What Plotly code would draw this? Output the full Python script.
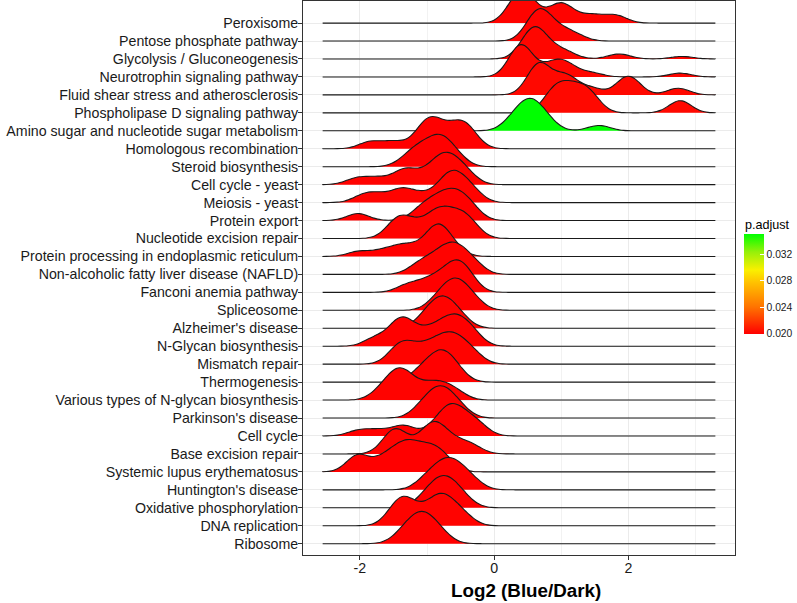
import plotly.graph_objects as go
from plotly.colors import sample_colorscale

# ---------------- data ----------------
pathways = [
    "Peroxisome", "Pentose phosphate pathway", "Glycolysis / Gluconeogenesis",
    "Neurotrophin signaling pathway", "Fluid shear stress and atherosclerosis",
    "Phospholipase D signaling pathway", "Amino sugar and nucleotide sugar metabolism",
    "Homologous recombination", "Steroid biosynthesis", "Cell cycle - yeast",
    "Meiosis - yeast", "Protein export", "Nucleotide excision repair",
    "Protein processing in endoplasmic reticulum",
    "Non-alcoholic fatty liver disease (NAFLD)", "Fanconi anemia pathway",
    "Spliceosome", "Alzheimer's disease", "N-Glycan biosynthesis", "Mismatch repair",
    "Thermogenesis", "Various types of N-glycan biosynthesis", "Parkinson's disease",
    "Cell cycle", "Base excision repair", "Systemic lupus erythematosus",
    "Huntington's disease", "Oxidative phosphorylation", "DNA replication", "Ribosome",
]

p_adjust = [
    0.0200, 0.0200, 0.0201, 0.0201, 0.0202, 0.0202, 0.0351,
    0.0199, 0.0199, 0.0200, 0.0200, 0.0199, 0.0200, 0.0199, 0.0200,
    0.0199, 0.0199, 0.0200, 0.0199, 0.0200, 0.0199, 0.0200, 0.0199,
    0.0199, 0.0200, 0.0199, 0.0199, 0.0199, 0.0200, 0.0199,
]

# log2 (Blue/Dark) values of the genes in each pathway (same order as pathways)
log2_fc = [
    [0.275, 0.36, 0.42, 0.48, 0.565, 0.89, 1.00, 1.11, 1.46, 1.81],
    [0.54, 0.595, 0.635, 0.665, 0.70, 0.74, 0.79, 0.92, 1.04, 1.22],
    [0.43, 0.48, 0.51, 0.54, 0.56, 0.58, 0.59, 0.61, 0.62, 0.64, 0.66, 0.69, 0.72,
     0.77, 0.87, 0.965, 1.035, 1.13, 1.82, 1.90, 2.80],
    [0.285, 0.33, 0.36, 0.38, 0.40, 0.42, 0.44, 0.47, 0.515, 0.77, 0.87, 0.94, 1.00,
     1.07, 1.17, 1.46, 2.77],
    [0.58, 0.635, 0.67, 0.705, 0.76, 1.00, 1.07, 1.14, 1.45, 1.93, 2.00, 2.07, 2.74],
    [0.85, 0.98, 1.13, 1.30, 1.45, 2.77],
    [0.24, 0.355, 0.425, 0.48, 0.53, 0.58, 0.635, 0.705, 0.815, 1.56],
    [-1.85, -1.50, -1.12, -1.02, -0.96, -0.91, -0.83, -0.69, -0.56, -0.49, -0.42, -0.33],
    [-1.32, -1.20, -1.12, -1.06, -0.97, -0.89, -0.84, -0.80, -0.76, -0.71, -0.63, -0.52],
    [-2.05, -1.75, -1.42, -1.32, -1.18, -0.95, -0.86, -0.79, -0.73, -0.66, -0.59, -0.50, -0.38],
    [-1.95, -1.72, -1.42, -1.33, -1.08, -0.80, -0.71, -0.65, -0.59, -0.52, -0.42, -0.30],
    [-2.03, -1.12, -0.98, -0.86, -0.76, -0.68, -0.60, -0.52, -0.43, -0.32],
    [-1.50, -1.40, -1.30, -1.10, -0.92, -0.84, -0.76, -0.66, -0.52, -0.45, -0.32],
    [-2.02, -1.68, -1.45, -1.33, -1.18, -0.97, -0.91, -0.87, -0.84, -0.81, -0.77, -0.70, -0.58],
    [-1.15, -0.98, -0.84, -0.74, -0.66, -0.59, -0.52, -0.42, -0.28],
    [-1.30, -1.05, -0.88, -0.74, -0.64, -0.57, -0.51, -0.45, -0.36],
    [-0.89, -0.78, -0.71, -0.65, -0.605, -0.555, -0.51, -0.45, -0.385, -0.27],
    [-1.08, -0.97, -0.90, -0.84, -0.795, -0.745, -0.70, -0.64, -0.57, -0.46],
    [-1.78, -1.50, -1.41, -1.35, -1.28, -1.08, -0.92, -0.78, -0.68, -0.60, -0.52, -0.42, -0.30],
    [-1.48, -1.38, -1.30, -1.15, -1.00, -0.88, -0.78, -0.70, -0.62, -0.54, -0.44, -0.30],
    [-1.16, -1.02, -0.93, -0.86, -0.80, -0.75, -0.70, -0.63, -0.53],
    [-1.70, -1.55, -1.47, -1.41, -1.36, -1.29, -1.15, -0.97, -0.86, -0.73, -0.56],
    [-1.12, -0.99, -0.92, -0.86, -0.80, -0.74, -0.68, -0.61, -0.48],
    [-2.02, -1.72, -1.40, -1.30, -0.90, -0.78, -0.71, -0.66, -0.62, -0.57, -0.50, -0.40,
     -0.30, -0.20],
    [-1.58, -1.50, -1.44, -1.38, -1.10, -0.98, -0.92, -0.87, -0.81, -0.70, -0.52, -0.32],
    [-2.06, -2.00, -1.68, -1.52, -1.38, -1.30, -1.22, -1.08, -0.96, -0.86, -0.72],
    [-1.055, -0.91, -0.82, -0.746, -0.68, -0.614, -0.54, -0.45, -0.305],
    [-1.07, -0.94, -0.87, -0.81, -0.75, -0.69, -0.63, -0.56, -0.43],
    [-1.50, -1.40, -1.32, -1.24, -1.02, -0.88, -0.80, -0.73, -0.62, -0.45],
    [-1.40, -1.27, -1.20, -1.14, -1.08, -1.02, -0.96, -0.89, -0.76],
]

x_tickvals = [-2, 0, 2]
x_ticktext = ["-2", "0", "2"]
cbar_tickvals = [0.020, 0.024, 0.028, 0.032]
cbar_ticktext = ["0.020", "0.024", "0.028", "0.032"]

# ---------------- style ----------------
FONT = "Liberation Sans, Arial, Helvetica, sans-serif"
bandwidth = 0.165          # joint bandwidth for all ridges
ridge_scale = 1.8          # tallest ridge height, in row units
colorscale = [
    [0.0, "rgb(255,0,0)"],
    [0.27, "rgb(255,115,0)"],
    [0.52, "rgb(255,195,0)"],
    [0.64, "rgb(250,240,0)"],
    [0.82, "rgb(150,240,10)"],
    [1.0, "rgb(0,255,0)"],
]

all_vals = [v for row in log2_fc for v in row]
lo = min(all_vals) - 3 * bandwidth
hi = max(all_vals) + 3 * bandwidth
pad = 0.05 * (hi - lo)
n_rows = len(pathways)
pmin, pmax = min(p_adjust), max(p_adjust)

fig = go.Figure()
for i, (name, vals, p) in enumerate(zip(pathways, log2_fc, p_adjust)):
    pos = n_rows - 1 - i
    frac = (p - pmin) / (pmax - pmin)
    col = sample_colorscale(colorscale, [frac])[0]
    fig.add_trace(go.Violin(
        x=vals, y=[pos] * len(vals), orientation="h", side="positive",
        width=2 * ridge_scale, scalegroup="ridges", scalemode="width",
        spanmode="manual", span=[lo, hi], bandwidth=bandwidth,
        points=False, box_visible=False, meanline_visible=False,
        line=dict(color="#1a1a1a", width=1.1), fillcolor=col,
        hoverinfo="skip", showlegend=False, name=name,
    ))

# colour bar for p.adjust
fig.add_trace(go.Scatter(
    x=[lo, lo], y=[-5, -5], mode="markers", hoverinfo="skip", showlegend=False,
    marker=dict(size=1, opacity=0, color=[pmin, pmax], cmin=pmin, cmax=pmax,
                colorscale=colorscale, showscale=True,
                colorbar=dict(
                    thickness=20, thicknessmode="pixels", len=100, lenmode="pixels",
                    x=(744 - 303) / 433, xanchor="left", xpad=0,
                    y=(555 - 284) / 554, yanchor="middle", ypad=0,
                    outlinewidth=0, tickvals=cbar_tickvals, ticktext=cbar_ticktext,
                    ticks="inside", ticklen=4, tickcolor="white", tickwidth=1,
                    tickfont=dict(family=FONT, size=10.3, color="#1a1a1a"),
                )),
))

fig.update_layout(
    width=797, height=603,
    margin=dict(l=303, r=61, t=1, b=48),
    paper_bgcolor="white", plot_bgcolor="white",
    violinmode="overlay", showlegend=False,
    font=dict(family=FONT, color="#1a1a1a"),
    xaxis=dict(
        range=[lo - pad, hi + pad], tickvals=x_tickvals, ticktext=x_ticktext,
        showgrid=True, gridcolor="#EBEBEB", gridwidth=1,
        minor=dict(tickvals=[-1, 1, 3], showgrid=True, gridcolor="#F2F2F2",
                   gridwidth=0.7, ticks=""),
        zeroline=False, showline=True, mirror=True, linecolor="#333333", linewidth=1,
        ticks="outside", ticklen=4, tickcolor="#333333", tickwidth=1,
        ticklabelstandoff=-4,
        tickfont=dict(family=FONT, size=14.2, color="#1a1a1a"),
    ),
    yaxis=dict(
        range=[-0.63, 30.23], tickvals=list(range(n_rows - 1, -1, -1)), ticktext=pathways,
        showgrid=True, gridcolor="#EBEBEB", gridwidth=1, zeroline=False,
        showline=True, mirror=True, linecolor="#333333", linewidth=1,
        ticks="outside", ticklen=4, tickcolor="#333333", tickwidth=1,
        ticklabelstandoff=-3,
        tickfont=dict(family=FONT, size=14.2, color="#1a1a1a"),
    ),
    annotations=[
        dict(text="<b>Log2 (Blue/Dark)</b>", x=(527 - 303) / 433, y=(555 - 590) / 554,
             xref="paper", yref="paper", xanchor="center", yanchor="middle",
             showarrow=False, font=dict(family=FONT, size=18.8, color="#000000")),
        dict(text="p.adjust", x=(744 - 303) / 433, y=(555 - 225) / 554,
             xref="paper", yref="paper", xanchor="left", yanchor="middle",
             showarrow=False, font=dict(family=FONT, size=12.6, color="#000000")),
    ],
)

fig.write_html("out.html", config={"displayModeBar": False},
               post_script="document.body.style.margin='0px';document.body.style.padding='0px';")
